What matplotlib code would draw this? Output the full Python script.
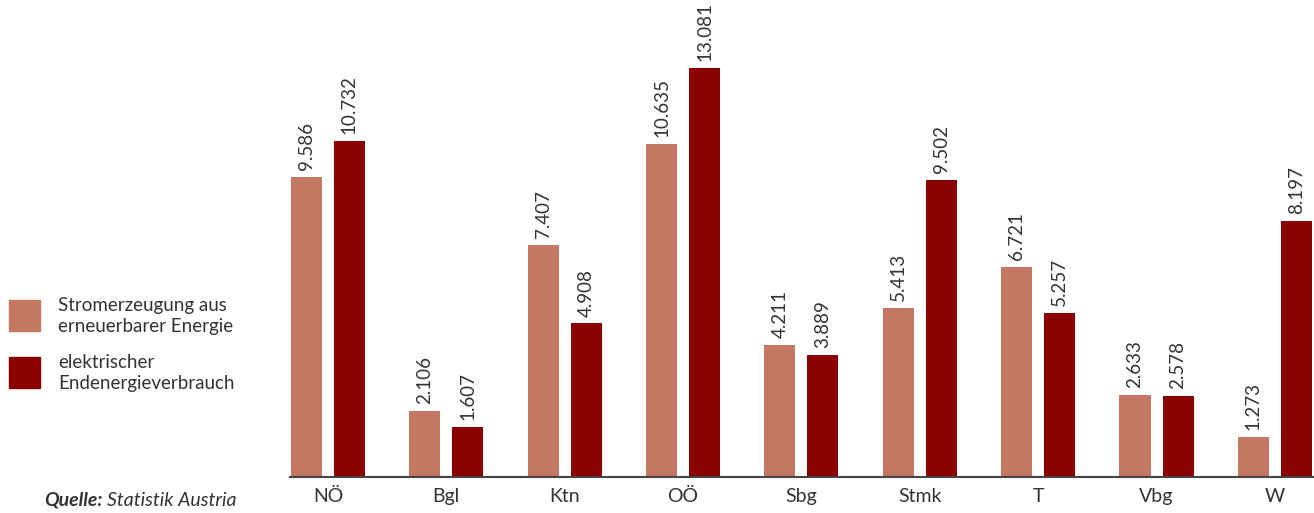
import numpy as np
import matplotlib.pyplot as plt
from matplotlib.patches import Rectangle

# Bundesländer und Werte (GWh)
laender = ['NÖ', 'Bgl', 'Ktn', 'OÖ', 'Sbg', 'Stmk', 'T', 'Vbg', 'W']
erzeugung = [9.586, 2.106, 7.407, 10.635, 4.211, 5.413, 6.721, 2.633, 1.273]
verbrauch = [10.732, 1.607, 4.908, 13.081, 3.889, 9.502, 5.257, 2.578, 8.197]

label_erz = 'Stromerzeugung aus\nerneuerbarer Energie'
label_verb = 'elektrischer\nEndenergieverbrauch'

c_hell = '#C47762'
c_dunkel = '#8B0000'
c_text = '#333333'

plt.rcParams['font.family'] = ['Lato', 'DejaVu Sans']

W, H = 1314, 513
fig = plt.figure(figsize=(W / 100, H / 100), dpi=100)
ax = fig.add_axes([290 / W, 36 / H, 1 - 290 / W, 1 - 36 / H])

x = np.arange(len(laender))
bw = 0.262
off = 0.182
b1 = ax.bar(x - off, erzeugung, bw, color=c_hell)
b2 = ax.bar(x + off, verbrauch, bw, color=c_dunkel)

for bars, vals in ((b1, erzeugung), (b2, verbrauch)):
    for b, v in zip(bars, vals):
        ax.annotate(f'{v:.3f}', (b.get_x() + b.get_width() / 2, v),
                    xytext=(0, 5), textcoords='offset points',
                    rotation=90, ha='center', va='bottom',
                    fontsize=13.5, color=c_text)

ax.set_xlim(-0.32, 8.33)
ax.set_ylim(0, 15.25)
ax.set_xticks(x)
ax.set_xticklabels(laender, fontsize=14, color=c_text)
ax.tick_params(axis='x', length=0, pad=8)
ax.set_yticks([])
for s in ('top', 'right', 'left'):
    ax.spines[s].set_visible(False)
ax.spines['bottom'].set_color('#444444')
ax.spines['bottom'].set_linewidth(1.5)

# Legende links
for ytop, col, lab in ((300, c_hell, label_erz), (357, c_dunkel, label_verb)):
    fig.add_artist(Rectangle((9 / W, 1 - (ytop + 31) / H), 31 / W, 31 / H,
                             transform=fig.transFigure, color=col))
    fig.text(58 / W, 1 - (ytop + 16) / H, lab, fontsize=13.5, color=c_text,
             va='center', ha='left', linespacing=1.25)

# Quelle
fig.text(103 / W, 1 - 500 / H, 'Quelle:', fontsize=14, fontweight='bold',
         style='italic', color=c_text, ha='right', va='center')
fig.text(107 / W, 1 - 500 / H, 'Statistik Austria', fontsize=14,
         style='italic', color=c_text, ha='left', va='center')

fig.savefig('out.png', dpi=100)
